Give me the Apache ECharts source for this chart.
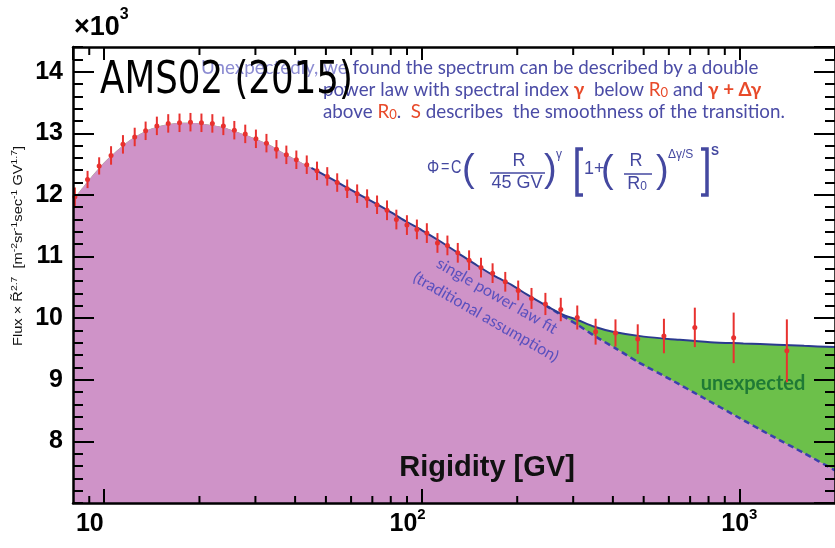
<!DOCTYPE html>
<html><head><meta charset="utf-8">
<script src="https://cdn.jsdelivr.net/npm/echarts@6/dist/echarts.min.js"></script>
<style>html,body{margin:0;padding:0;background:#fff}#c{width:835px;height:548px}</style>
</head><body><div id="c"></div>
<script>
// ---- data (flux × R^2.7, in units of 10^3) ----
const rigidity = [8.11, 8.89, 9.67, 10.54, 11.49, 12.51, 13.54, 14.69, 15.95, 17.31,
  18.74, 20.29, 21.96, 23.78, 25.75, 27.87, 30.11, 32.50, 34.94, 37.54,
  40.36, 43.52, 46.87, 50.49, 54.26, 58.33, 62.70, 67.39, 72.43, 77.86,
  83.31, 89.93, 96.67, 103.9, 112.2, 120.6, 130.0, 141.1, 153.8, 167.3,
  183.4, 201.4, 221.8, 245.3, 274.2, 309.0, 352.9, 407.6, 478.9, 579.0,
  724.3, 959.7, 1411];
const flux = [11.97, 12.25, 12.47, 12.64, 12.82, 12.94, 13.04, 13.12, 13.16, 13.17,
  13.18, 13.17, 13.16, 13.12, 13.05, 12.99, 12.91, 12.84, 12.74, 12.65,
  12.57, 12.49, 12.39, 12.30, 12.20, 12.10, 12.02, 11.94, 11.84, 11.75,
  11.60, 11.51, 11.44, 11.38, 11.22, 11.18, 11.06, 10.94, 10.82, 10.73,
  10.59, 10.45, 10.32, 10.23, 10.14, 10.01, 9.78, 9.76, 9.66, 9.71,
  9.85, 9.68, 9.47];
const fluxErr = [0.15, 0.14, 0.14, 0.15, 0.15, 0.15, 0.15, 0.15, 0.15, 0.15,
  0.15, 0.15, 0.15, 0.15, 0.15, 0.15, 0.15, 0.15, 0.15, 0.15,
  0.15, 0.15, 0.15, 0.15, 0.15, 0.15, 0.15, 0.15, 0.15, 0.16,
  0.16, 0.16, 0.16, 0.16, 0.16, 0.16, 0.16, 0.16, 0.16, 0.16,
  0.16, 0.16, 0.17, 0.18, 0.19, 0.195, 0.21, 0.22, 0.24, 0.28,
  0.32, 0.41, 0.51];
// double power law fit (solid line)
const fitR = [8, 9, 10, 11, 12, 13, 14, 15, 16.5, 18,
  20, 22, 24, 26, 28, 30, 33, 36, 40, 45,
  50, 55, 60, 70, 80, 90, 100, 115, 130, 150,
  170, 192, 215, 245, 275, 310, 350, 400, 500, 640,
  810, 1030, 1310, 1600, 2000];
const fitFlux = [11.92, 12.25, 12.52, 12.72, 12.88, 12.99, 13.07, 13.12, 13.16, 13.17,
  13.16, 13.13, 13.09, 13.03, 12.97, 12.91, 12.82, 12.71, 12.58, 12.44,
  12.31, 12.19, 12.08, 11.89, 11.72, 11.56, 11.43, 11.24, 11.06, 10.85,
  10.68, 10.54, 10.38, 10.21, 10.07, 9.97, 9.86, 9.78, 9.70, 9.65,
  9.61, 9.59, 9.57, 9.55, 9.53];
const fitLineFrom = 45;
// single power law (dashed line)
const splR = [245, 269, 310, 353, 408, 479, 610, 775, 985, 1253, 1597, 2000];
const splFlux = [10.21, 10.08, 9.89, 9.70, 9.51, 9.29, 9.00, 8.70, 8.40, 8.10, 7.81, 7.53];
// ticks
const xMajorLabels = {10: '{a|10}', 100: '{b|10}{bs|2}', 1000: '{c|10}{cs|3}'};
const xMinorTicks = [9, 20, 30, 40, 50, 60, 70, 80, 90, 200, 300, 400, 500, 600, 700, 800, 900];
const yLabels = [8, 9, 10, 11, 12, 13, 14];

const PURPLE = '#cf93c8', GREEN = '#6cc04a', RED = '#e8312f';
const BLUE = '#4b4ca6', ORANGE = '#e84a2a';

const fitPts = fitR.map((r, i) => [r, fitFlux[i]]);
const splPts = splR.map((r, i) => [r, splFlux[i]]);
const lowerEdge = fitPts.filter(p => p[0] < splR[0]).concat(splPts);
const fitLine = fitPts.filter(p => p[0] >= fitLineFrom);

const chart = echarts.init(document.getElementById('c'));
const axisLine = {show: true, lineStyle: {color: '#000', width: 2.5}};
const LF = 'Liberation Sans, Arial, sans-serif';
function yAxisDef(pos, minor, labels) {
  return {
    type: 'value', position: pos, min: 7, max: 14.4, interval: minor ? 0.2 : 1, z: 10,
    axisLine: minor ? {show: false} : axisLine,
    axisTick: {show: true, inside: true, length: minor ? 10 : 21, lineStyle: {color: '#000', width: 2}},
    axisLabel: {show: labels, margin: 10, color: '#000', fontFamily: LF, fontWeight: 'bold', fontSize: 25,
      showMaxLabel: false, showMinLabel: false,
      formatter: v => (yLabels.indexOf(v) >= 0 ? String(v) : '')},
    splitLine: {show: false}
  };
}
function xAxisDef(pos, labels, len) {
  return {
    type: 'log', logBase: 10, position: pos, min: 8, max: 2000, z: 10,
    axisLine: axisLine,
    axisTick: {show: true, inside: true, length: len, lineStyle: {color: '#000', width: 2}},
    axisLabel: {show: labels, margin: 4, color: '#000', showMinLabel: false, showMaxLabel: false,
      formatter: v => xMajorLabels[Math.round(v)] || '',
      rich: {
        a: {fontFamily: LF, fontWeight: 'bold', fontSize: 25, lineHeight: 34, padding: [0, 28, 0, 0]},
        b: {fontFamily: LF, fontWeight: 'bold', fontSize: 25, lineHeight: 34},
        bs: {fontFamily: LF, fontWeight: 'bold', fontSize: 15, verticalAlign: 'top', padding: [0, 28, 0, 0]},
        c: {fontFamily: LF, fontWeight: 'bold', fontSize: 25, lineHeight: 34},
        cs: {fontFamily: LF, fontWeight: 'bold', fontSize: 15, verticalAlign: 'top'}
      }},
    splitLine: {show: false}
  };
}

const formulaFont = '18px ' + LF;
const g = [];
function T(x, y, text, font, fill, extra) {
  g.push(Object.assign({type: 'text', x: x, y: y, z: 5,
    style: {text: text, font: font, fill: fill, align: 'left', verticalAlign: 'middle'}}, extra || {}));
}
// annotation text
const AF = '18.8px Lato, sans-serif';
const annRich = {
  l: {fill: '#8c8cd2', font: AF},
  r: {fill: ORANGE, font: 'bold ' + AF},
  rr: {fill: ORANGE, font: AF},
  sub: {fill: ORANGE, font: '13px Lato, sans-serif', verticalAlign: 'bottom'}
};
g.push({type: 'text', x: 201, y: 68, z: 5, style: {text: '{l|Unexpectedly, we} found the spectrum can be described by a double', font: AF, fill: BLUE, verticalAlign: 'middle', rich: annRich}});
g.push({type: 'text', x: 323, y: 90, z: 5, style: {text: 'power law with spectral index {r|γ}  below {rr|R}{sub|0} and {r|γ + Δγ}', font: AF, fill: BLUE, verticalAlign: 'middle', rich: annRich}});
g.push({type: 'text', x: 323, y: 112, z: 5, style: {text: 'above {rr|R}{sub|0}.  {rr|S} describes  the smoothness of the transition.', font: AF, fill: BLUE, verticalAlign: 'middle', rich: annRich}});
// formula
const FB = '#4448a0';
T(427, 168, 'Φ', formulaFont, FB, {scaleX: 0.85});
T(441, 167, '=', formulaFont, FB, {scaleX: 0.8});
T(451, 168, 'C', formulaFont, FB, {scaleX: 0.8});
T(462, 171, '(', '38px ' + LF, FB);
g.push({type: 'text', x: 519, y: 161, z: 5, style: {text: 'R', font: formulaFont, fill: FB, align: 'center', verticalAlign: 'middle'}});
g.push({type: 'line', z: 5, shape: {x1: 490, y1: 173, x2: 545, y2: 173}, style: {stroke: FB, lineWidth: 1.5}});
g.push({type: 'text', x: 517, y: 183, z: 5, style: {text: '45 GV', font: formulaFont, fill: FB, align: 'center', verticalAlign: 'middle'}});
T(544, 171, ')', '38px ' + LF, FB);
T(556, 155, 'γ', '12px ' + LF, FB);
g.push({type: 'polyline', z: 5, shape: {points: [[583, 149], [577, 149], [577, 195], [583, 195]]}, style: {stroke: FB, lineWidth: 3.5, fill: null}});
T(584, 169, '1+', formulaFont, FB);
T(601, 172, '(', '38px ' + LF, FB);
g.push({type: 'text', x: 636, y: 161, z: 5, style: {text: 'R', font: formulaFont, fill: FB, align: 'center', verticalAlign: 'middle'}});
g.push({type: 'line', z: 5, shape: {x1: 624, y1: 174, x2: 652, y2: 174}, style: {stroke: FB, lineWidth: 1.5}});
g.push({type: 'text', x: 637, y: 184, z: 5, style: {text: 'R{s|0}', font: formulaFont, fill: FB, align: 'center', verticalAlign: 'middle', rich: {s: {font: '12px ' + LF, fill: FB, verticalAlign: 'bottom'}}}});
T(656, 172, ')', '38px ' + LF, FB);
T(668, 155, 'Δγ/S', '12px ' + LF, FB);
g.push({type: 'polyline', z: 5, shape: {points: [[701, 149], [707, 149], [707, 195], [701, 195]]}, style: {stroke: FB, lineWidth: 3.5, fill: null}});
T(711, 152, 'S', 'bold 12px ' + LF, FB);
// rotated annotation
g.push({type: 'text', x: 497, y: 296, rotation: -0.52, z: 5, style: {text: 'single power law fit', font: '16px Lato, sans-serif', fill: '#5a50be', align: 'center', verticalAlign: 'middle'}});
g.push({type: 'text', x: 486, y: 317, rotation: -0.52, z: 5, style: {text: '(traditional assumption)', font: '16px Lato, sans-serif', fill: '#5a50be', align: 'center', verticalAlign: 'middle'}});
g.push({type: 'text', x: 753, y: 384, z: 5, style: {text: 'unexpected', font: 'bold 20px Lato, sans-serif', fill: '#1f7a35', align: 'center', verticalAlign: 'middle'}});
g.push({type: 'text', x: 487, y: 468, z: 5, style: {text: 'Rigidity [GV]', font: 'bold 29px ' + LF, fill: '#111', align: 'center', verticalAlign: 'middle'}});
// ×10^3
g.push({type: 'text', x: 74, y: 27.5, z: 5, style: {text: '{m|×10}{s|3}', verticalAlign: 'middle', fill: '#000',
  rich: {m: {font: 'bold 27px ' + LF, lineHeight: 42, fill: '#000'}, s: {font: 'bold 16px ' + LF, verticalAlign: 'top', fill: '#000'}}}});
// y axis title
g.push({type: 'text', x: 19, y: 246, rotation: Math.PI / 2, scaleX: 1.22, z: 5, style: {
  text: '{t|Flux × R̃}{s|2.7}{t|  [m}{s|-2}{t|sr}{s|-1}{t|sec}{s|-1}{t| GV}{s|1.7}{t|]}',
  align: 'center', verticalAlign: 'middle', fill: '#111',
  rich: {t: {font: '12px ' + LF, lineHeight: 17, fill: '#111'}, s: {font: '8.5px ' + LF, verticalAlign: 'top', fill: '#111'}}}});
// title
g.push({type: 'text', x: 100, y: 82, z: 20, scaleX: 0.81, style: {text: 'AMS02 (2015)', font: '44px DejaVu Sans, sans-serif', fill: '#000', verticalAlign: 'middle'}});

chart.setOption({
  animation: false,
  grid: {left: 73, right: -3, top: 47, bottom: 45, containLabel: false},
  xAxis: [xAxisDef('bottom', true, 14), xAxisDef('top', false, 13)],
  yAxis: [yAxisDef('left', false, true), yAxisDef('left', true, false), yAxisDef('right', false, false), yAxisDef('right', true, false)],
  series: [
    {type: 'line', data: fitPts, showSymbol: false, smooth: 0.3, lineStyle: {width: 0}, areaStyle: {color: GREEN, opacity: 1, origin: 'start'}, z: 1, silent: true},
    {type: 'line', data: lowerEdge, showSymbol: false, smooth: 0.3, lineStyle: {width: 0}, areaStyle: {color: PURPLE, opacity: 1, origin: 'start'}, z: 2, silent: true},
    {type: 'line', data: splPts, showSymbol: false, smooth: 0.2, lineStyle: {color: '#3b3fae', width: 2.5, type: [6, 4]}, z: 3, silent: true},
    {type: 'line', data: fitLine, showSymbol: false, smooth: 0.3, lineStyle: {color: '#2b3a8f', width: 2}, z: 3, silent: true},
    {type: 'custom', data: xMinorTicks.map(v => [v]), encode: {x: 0}, z: 5, silent: true,
      renderItem: (params, api) => {
        const x = api.coord([api.value(0), 10])[0];
        const cs = params.coordSys;
        return {type: 'group', children: [
          {type: 'line', shape: {x1: x, y1: cs.y + cs.height, x2: x, y2: cs.y + cs.height - 7}, style: {stroke: '#000', lineWidth: 2}},
          {type: 'line', shape: {x1: x, y1: cs.y, x2: x, y2: cs.y + 8}, style: {stroke: '#000', lineWidth: 2}}
        ]};
      }},
    {type: 'custom', data: rigidity.map((r, i) => [r, flux[i], fluxErr[i]]), encode: {x: 0, y: 1}, z: 6, silent: true, clip: false,
      renderItem: (params, api) => {
        const r = api.value(0), v = api.value(1), e = api.value(2);
        const c = api.coord([r, v]), t = api.coord([r, v + e]), b = api.coord([r, v - e]);
        return {type: 'group', children: [
          {type: 'line', shape: {x1: c[0], y1: t[1], x2: c[0], y2: b[1]}, style: {stroke: RED, lineWidth: 2}},
          {type: 'circle', shape: {cx: c[0], cy: c[1], r: 2.5}, style: {fill: RED}}
        ]};
      }}
  ],
  graphic: {elements: g}
});
</script></body></html>
